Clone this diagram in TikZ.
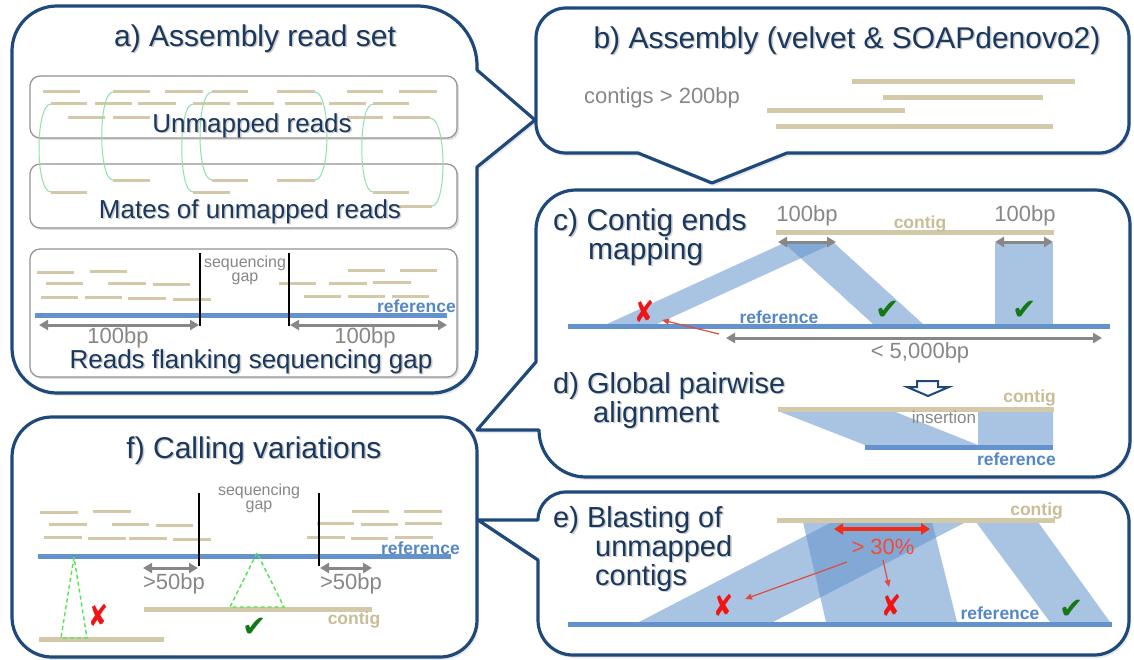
\documentclass[tikz,border=0pt]{standalone}
\usepackage{fontspec}
\usepackage{graphicx}
\setmainfont{Liberation Sans}
\newfontfamily\symfont{DejaVu Sans}
\usetikzlibrary{arrows.meta,shadows}

\definecolor{navy}{RGB}{31,73,122}
\definecolor{titlec}{RGB}{26,56,94}
\definecolor{tan}{RGB}{211,201,168}
\definecolor{tantext}{RGB}{200,189,150}
\definecolor{refblue}{RGB}{99,146,204}
\definecolor{reftext}{RGB}{85,135,200}
\definecolor{midgray}{RGB}{135,135,135}
\definecolor{mategreen}{RGB}{140,225,175}
\definecolor{dashgreen}{RGB}{80,230,80}
\definecolor{xred}{RGB}{240,20,20}
\definecolor{spanred}{RGB}{240,45,20}
\definecolor{okgreen}{RGB}{20,120,20}
\definecolor{arrowred}{RGB}{225,75,60}

% text with a soft grey copy behind it
\newcommand\shtext[4]{%
  \node[#3,shadowcopy] (#1-sh) at #2 {#4};
  \node[#3] (#1) at #2 {#4};}
% a mate-pair link: end x, top y, control x, bottom end x, bottom y
\newcommand\matelink[5]{%
  \draw[mate] (#1,#2) .. controls (#3,#2) and (#3,#5) .. (#4,#5);}
% first-line strut of the multi-line headings
\newcommand\headstrut{\rule{0pt}{24pt}}

\tikzset{
  callout/.style={draw=navy, line width=3.2pt, fill=white, line join=round,
    drop shadow={opacity=0.18, shadow xshift=2pt, shadow yshift=-3pt}},
  innerbox/.style={draw=gray!85, line width=1.2pt, rounded corners=10pt, fill=white,
    drop shadow={opacity=0.25, shadow xshift=2pt, shadow yshift=-2pt}},
  read/.style={draw=tan, line width=3pt},
  contigline/.style={draw=tan, line width=5pt},
  refline/.style={draw=refblue, line width=5pt},
  band/.style={fill=refblue, fill opacity=0.55},
  shadowcopy/.style={text=black, text opacity=0.2, xshift=1.5pt, yshift=-1.5pt},
  ptitle/.style={font=\fontsize{30}{30}\selectfont, text=titlec, inner sep=0pt,
    text height=22pt, text depth=5pt},
  pheading/.style={font=\fontsize{29}{29}\selectfont, text=titlec, inner sep=0pt,
    align=left, anchor=north west},
  boxlabel/.style={font=\fontsize{26}{26}\selectfont, text=titlec, inner sep=0pt},
  bp/.style={font=\fontsize{22}{22}\selectfont, text=midgray, inner sep=0pt},
  smallgray/.style={font=\fontsize{16}{14}\selectfont, text=midgray, inner sep=0pt, align=center},
  reflabel/.style={font=\bfseries\fontsize{17.5}{17.5}\selectfont, text=reftext, inner sep=0pt},
  contiglabel/.style={font=\bfseries\fontsize{17.5}{17.5}\selectfont, text=tantext, inner sep=0pt},
  xmark/.style={font=\symfont\fontsize{30}{30}\selectfont, text=xred, inner sep=0pt},
  okmark/.style={font=\symfont\fontsize{29}{29}\selectfont, text=okgreen, inner sep=0pt},
  gaptick/.style={draw=black, line width=1.3pt},
  span/.style={draw=midgray, line width=3pt,
    {Triangle[length=9pt,width=10pt]}-{Triangle[length=9pt,width=10pt]}},
  redspan/.style={draw=spanred, line width=3.5pt,
    {Triangle[length=9pt,width=11pt]}-{Triangle[length=9pt,width=11pt]}},
  pointer/.style={draw=arrowred, line width=1.2pt, -{Triangle[length=7pt,width=6pt]}},
  mate/.style={draw=mategreen, line width=1pt},
  insertion/.style={draw=dashgreen, line width=1.4pt, dash pattern=on 4pt off 3pt},
}

\begin{document}
\begin{tikzpicture}[x=1pt,y=-1pt]
\useasboundingbox (0,0) rectangle (1134,659);

% ---------- callout outlines ----------
% f) calling variations
\draw[callout] (12,617) -- (12,457) arc[start angle=180,end angle=270,radius=40]
  -- (442,417) arc[start angle=270,end angle=360,radius=35]
  -- (477,620) arc[start angle=0,end angle=90,radius=37]
  -- (52,657) arc[start angle=90,end angle=180,radius=40] -- cycle;
% c) + d) with tail towards f
\draw[callout] (536,230) arc[start angle=180,end angle=270,radius=40]
  -- (1095,190) arc[start angle=270,end angle=360,radius=35]
  -- (1130,440) arc[start angle=0,end angle=90,radius=37]
  -- (586,477) arc[start angle=90,end angle=180,radius=47]
  -- (477,430) -- (536,362) -- cycle;
% e) with tail towards f
\draw[callout] (538,620) -- (538,560) -- (478,520) -- (538,520)
  arc[start angle=180,end angle=270,radius=28]
  -- (1099,492) arc[start angle=270,end angle=360,radius=30]
  -- (1129,620) arc[start angle=0,end angle=90,radius=35]
  -- (573,655) arc[start angle=90,end angle=180,radius=35] -- cycle;
% a) with tail towards b
\draw[callout] (12,348) -- (12,51) arc[start angle=180,end angle=270,radius=45]
  -- (417,6) arc[start angle=270,end angle=360,radius=60]
  -- (477,70) -- (535,120) -- (477,167)
  -- (477,348) arc[start angle=0,end angle=90,radius=45]
  -- (57,393) arc[start angle=90,end angle=180,radius=45] -- cycle;
% b) with tail towards c
\draw[callout] (536,38) arc[start angle=180,end angle=270,radius=30]
  -- (1099,8) arc[start angle=270,end angle=360,radius=30]
  -- (1129,123) arc[start angle=0,end angle=90,radius=30]
  -- (787,153) -- (712,183) -- (638,153)
  -- (566,153) arc[start angle=90,end angle=180,radius=30] -- cycle;

% ---------- a) assembly read set ----------
\shtext{a-title}{(255,46)}{ptitle,anchor=base}{a) Assembly read set}
\draw[innerbox] (30,76) rectangle (457,138);
\draw[innerbox] (30,164) rectangle (457,228);
\draw[innerbox] (30,249) rectangle (457,377);

% unmapped reads and their mates
\foreach \y/\a/\b in {91/43/80, 91/113/150, 91/165/203, 91/212/248, 91/277/315,
    91/347/383, 91/399/437,
    103/51/87, 103/95/132, 103/138/176, 103/193/230, 103/237/274, 103/285/322,
    103/329/366, 103/373/409,
    117/68/105, 117/113/150, 117/347/383, 117/393/430,
    180/113/150, 180/212/248, 180/277/315,
    192/51/87, 192/193/230, 192/373/409, 206/398/432}
  \draw[read] (\a,\y) -- (\b,\y);
% mate-pair links
\matelink{51}{104}{35}{51}{192}
\matelink{113}{92}{98}{113}{180}
\matelink{193}{104}{178}{193}{192}
\matelink{212}{92}{196}{212}{180}
\matelink{315}{92}{331}{315}{180}
\matelink{373}{104}{358}{373}{192}
\matelink{430}{118}{447}{432}{206}

\shtext{a-unm}{(252,132)}{boxlabel,anchor=base}{Unmapped reads}
\shtext{a-mates}{(250,218)}{boxlabel,anchor=base}{Mates of unmapped reads}

% reads flanking a sequencing gap
\foreach \y/\a/\b in {272/37/74, 271/90/127,
    283/46/83, 283/108/146, 284/153/190,
    297/41/78, 297/85/122, 298/128/166, 299/173/211,
    270/348/385, 270/400/437,
    283/279/316, 283/329/367, 282/373/411,
    296/304/341, 296/348/385, 296/392/429}
  \draw[read] (\a,\y) -- (\b,\y);
\draw[refline] (35,315) -- (447,315);
\node[reflabel,anchor=east] (a-ref) at (456,306) {reference};
\draw[gaptick] (200,253) -- (200,326);
\draw[gaptick] (289,253) -- (289,326);
\node[smallgray] (a-gap) at (245,270) {sequencing\\gap};
\draw[span] (39,325) -- (199,325);
\draw[span] (290,325) -- (447,325);
\node[bp] (a-bp1) at (118,338) {100bp};
\node[bp] (a-bp2) at (365,338) {100bp};
\shtext{a-flank}{(251,368)}{boxlabel,anchor=base}{Reads flanking sequencing gap}

% ---------- b) assembly ----------
\shtext{b-title}{(847,48)}{ptitle,anchor=base}{b) Assembly (velvet \& SOAPdenovo2)}
\node[bp] (b-len) at (662,98) {contigs > 200bp};
\draw[contigline] (852,81) -- (1075,81);
\draw[contigline] (883,97) -- (1043,97);
\draw[contigline] (767,110) -- (905,110);
\draw[contigline] (776,126) -- (1053,126);

% ---------- c) contig ends mapping ----------
\shtext{c-title}{(553,206)}{pheading,font=\fontsize{30}{27}\selectfont}%
  {\headstrut c) Contig ends\\\hspace*{35pt}mapping}
\fill[band] (784,243) -- (834,243) -- (657,324) -- (607,324) -- cycle;
\fill[band] (784,243) -- (834,243) -- (923,324) -- (873,324) -- cycle;
\fill[band] (995,243) -- (1053,243) -- (1053,324) -- (995,324) -- cycle;
\draw[contigline] (776,232) -- (1054,232);
\node[contiglabel] (c-contig) at (920,224) {contig};
\node[bp] (c-bp1) at (807,216) {100bp};
\node[bp] (c-bp2) at (1025,216) {100bp};
\draw[span] (778,242) -- (836,242);
\draw[span] (995,242) -- (1053,242);
\draw[refline] (568,326) -- (1110,326);
\node[reflabel] (c-ref) at (779,317) {reference};
\node[xmark] (c-x) at (645,311) {\scalebox{0.8}[1.0]{✘}};
\node[okmark] (c-ok1) at (888,310) {✔};
\node[okmark] (c-ok2) at (1025,310) {✔};
\coordinate (c-from) at (719,334);
\coordinate (c-to) at (662,320);
\draw[pointer] (c-from) -- (c-to);
\draw[span] (726,338) -- (1102,338);
\node[bp] (c-dist) at (920,353) {< 5,000bp};

% ---------- d) global pairwise alignment ----------
\shtext{d-title}{(553,369)}{pheading}%
  {\headstrut d) Global pairwise\\\hspace*{40pt}alignment}
\draw[navy, line width=2pt, fill=white, line join=miter]
  (917,381) -- (938,381) -- (938,387) -- (949,387) -- (928,396) -- (907,387) -- (917,387) -- cycle;
\fill[band] (778,411) -- (893,411) -- (978,445) -- (978,411) -- (1053,411) -- (1053,445) -- (865,445) -- cycle;
\draw[contigline] (778,409) -- (1054,409);
\node[contiglabel,anchor=east] (d-contig) at (1056,398) {contig};
\node[smallgray,font=\fontsize{17}{17}\selectfont] (d-ins) at (944,417) {insertion};
\draw[refline] (865,447) -- (1053,447);
\node[reflabel,anchor=east] (d-ref) at (1056,459) {reference};

% ---------- e) blasting of unmapped contigs ----------
\shtext{e-title}{(553,503)}{pheading}%
  {\headstrut e) Blasting of\\\hspace*{42pt}unmapped\\\hspace*{42pt}contigs}
\fill[band] (832,522) -- (966,522) -- (773,622) -- (639,622) -- cycle;
\fill[band] (803,522) -- (932,522) -- (957,622) -- (826,622) -- cycle;
\fill[band] (976,522) -- (1038,522) -- (1110,622) -- (1050,622) -- cycle;
\draw[contigline] (777,520) -- (1055,520);
\node[contiglabel,anchor=east] (e-contig) at (1063,511) {contig};
\draw[redspan] (834,529) -- (930,529);
\node[bp,text=spanred!85!white] (e-pct) at (883,547) {> 30\%};
\draw[refline] (568,624) -- (1112,624);
\node[reflabel] (e-ref) at (1000,613) {reference};
\node[xmark] (e-x1) at (724,605) {\scalebox{0.8}[1.0]{✘}};
\node[xmark] (e-x2) at (892,605) {\scalebox{0.8}[1.0]{✘}};
\node[okmark] (e-ok) at (1072,609) {✔};
\coordinate (e-p1) at (847,562);
\coordinate (e-p2) at (883,560);
\coordinate (e-t1) at (745,599);
\coordinate (e-t2) at (889,587);
\draw[pointer] (e-p1) -- (e-t1);
\draw[pointer] (e-p2) -- (e-t2);

% ---------- f) calling variations ----------
\shtext{f-title}{(254,458)}{ptitle,anchor=base}{f) Calling variations}
\node[smallgray] (f-gap) at (259,498) {sequencing\\gap};
\foreach \y/\a/\b in {512/40/78, 511/93/131,
    524/49/87, 524/112/149, 525/156/193,
    537/44/82, 538/88/126, 538/129/167, 539/173/211,
    511/352/389, 511/404/442,
    523/317/354, 524/361/398, 523/405/442,
    537/307/345, 538/351/388, 537/395/433}
  \draw[read] (\a,\y) -- (\b,\y);
\draw[refline] (38,556) -- (451,556);
\node[reflabel,anchor=east] (f-ref) at (460,548) {reference};
\draw[gaptick] (199,493) -- (199,566);
\draw[gaptick] (319,493) -- (319,566);
\draw[span] (143,568) -- (198,568);
\draw[span] (320,568) -- (372,568);
\node[bp] (f-bp1) at (174,584) {>50bp};
\node[bp] (f-bp2) at (351,584) {>50bp};
\draw[contigline] (144,609) -- (372,609);
\draw[contigline] (39,639) -- (164,639);
\node[contiglabel] (f-contig) at (354,620) {contig};
\draw[insertion] (74,557) -- (61,638) -- (87,638) -- cycle;
\draw[insertion] (257,553) -- (230,607) -- (284,607) -- cycle;
\node[xmark] (f-x) at (99,615) {\scalebox{0.8}[1.0]{✘}};
\node[okmark] (f-ok) at (255,627) {✔};
\end{tikzpicture}
\end{document}
